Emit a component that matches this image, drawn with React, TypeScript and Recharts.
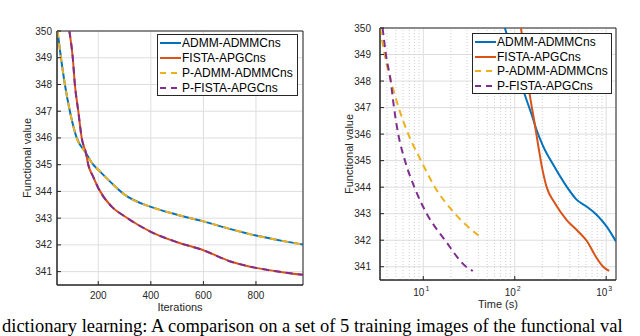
import React from "react";
import {
  LineChart,
  Line,
  XAxis,
  YAxis,
  CartesianGrid,
  ReferenceLine,
  ReferenceArea,
  Legend,
} from "recharts";

// left panel: functional value vs iterations
const admmIter = [45, 58, 73, 92, 118, 153, 181, 200, 250, 300, 400, 500, 600, 700, 800, 900, 979];
const admmIterVal = [350, 349, 348, 347, 346, 345.44, 345, 344.81, 344.32, 343.88, 343.42, 343.13, 342.88, 342.6, 342.35, 342.15, 342.01];
const fistaIter = [90, 103, 111, 124, 137, 153, 162, 180, 200, 250, 300, 400, 500, 600, 700, 800, 900, 979];
const fistaIterVal = [350, 349, 348, 347, 346, 345.44, 345, 344.56, 344.13, 343.44, 343.07, 342.49, 342.1, 341.8, 341.39, 341.14, 340.98, 340.88];

// right panel: functional value vs time (s)
const admmTime = [78, 95, 123, 159, 170, 204, 263, 368, 474, 610, 785, 1009, 1280];
const admmTimeVal = [350, 349.0, 347.69, 346.56, 346.24, 345.55, 344.85, 344.03, 343.53, 343.27, 342.96, 342.52, 341.95];
const fistaTime = [117, 130, 143, 165, 180, 196, 222, 274, 368, 494, 620, 752, 927, 1079];
const fistaTimeVal = [350, 348.8, 347.69, 346.4, 345.6, 344.85, 344.03, 343.4, 342.77, 342.33, 341.95, 341.44, 341.0, 340.84];
const pAdmmTime = [3.36, 3.77, 4.43, 5.37, 6.85, 9.44, 13.4, 22.2, 41.8];
const pAdmmTimeVal = [350, 349, 348, 347, 346, 345, 344, 343, 342.13];
const pFistaTime = [3.59, 3.9, 4.4, 4.78, 5.32, 6.3, 7.98, 10.9, 17.3, 29.4, 34.8];
const pFistaTimeVal = [350, 349, 348, 347, 346, 345, 344, 343, 342, 341, 340.84];

const yTicks = [341, 342, 343, 344, 345, 346, 347, 348, 349, 350];
const iterTicks = [200, 400, 600, 800];
const timeTicks = [10, 100, 1000];
const timeMinor = [4, 5, 6, 7, 8, 9, 20, 30, 40, 50, 60, 70, 80, 90, 200, 300, 400, 500, 600, 700, 800, 900];

const seriesNames = ["ADMM-ADMMCns", "FISTA-APGCns", "P-ADMM-ADMMCns", "P-FISTA-APGCns"];
const seriesColors = ["#0072BD", "#D95319", "#EDB120", "#7E2F8E"];
const seriesDashed = [false, false, true, true];

const caption =
  "dictionary learning: A comparison on a set of 5 training images of the functional val";

const FONT = "'Liberation Sans', Arial, sans-serif";
const AX = "#262626";
const GRID = "#dedede";
const DASH = "7 5";

const pts = (xs: number[], ys: number[]) => xs.map((x, i) => ({ x, y: ys[i] }));

const MatlabLegend = ({ rowH, padTop }: { rowH: number; padTop: number }) => (
  <div
    style={{
      boxSizing: "border-box",
      width: "100%",
      height: "100%",
      background: "#fff",
      border: `1px solid ${AX}`,
      paddingTop: padTop,
      fontFamily: FONT,
      fontSize: 12,
      color: "#000",
    }}
  >
    {seriesNames.map((name, i) => (
      <div key={name} style={{ display: "flex", alignItems: "center", height: rowH, whiteSpace: "nowrap" }}>
        <svg width={24} height={6} style={{ flex: "none" }}>
          <line
            x1={2}
            x2={23}
            y1={3}
            y2={3}
            stroke={seriesColors[i]}
            strokeWidth={2}
            strokeDasharray={seriesDashed[i] ? "6 5" : undefined}
          />
        </svg>
        <span>{name}</span>
      </div>
    ))}
  </div>
);

const PowerTick = (props: any) => {
  const { x, y, payload } = props;
  const exp = Math.round(Math.log10(payload.value));
  return (
    <text x={x - 2} y={y + 12} textAnchor="middle" fontFamily={FONT} fontSize={10} fill={AX}>
      10
      <tspan dx={1} dy={-5} fontSize={7}>
        {exp}
      </tspan>
    </text>
  );
};

const tickStyle = { fontFamily: FONT, fontSize: 10, fill: AX };
const labelStyle = { fontFamily: FONT, fontSize: 11, fill: AX, textAnchor: "middle" as const };

const IterationsChart = () => (
  <LineChart width={320} height={336} margin={{ top: 31, right: 17, bottom: 21, left: 0 }}>
    <CartesianGrid stroke={GRID} />
    <XAxis
      dataKey="x"
      type="number"
      domain={[43, 979]}
      ticks={iterTicks}
      allowDataOverflow
      height={30}
      tickSize={-4}
      tickMargin={11}
      tick={tickStyle}
      stroke={AX}
      label={{ value: "Iterations", position: "insideBottom", offset: 4, style: labelStyle }}
    />
    <YAxis
      type="number"
      domain={[340.5, 350]}
      ticks={yTicks}
      allowDataOverflow
      width={57}
      tickSize={-4}
      tickMargin={9}
      tick={tickStyle}
      stroke={AX}
      label={{ value: "Functional value", angle: -90, position: "insideLeft", offset: 27, style: labelStyle }}
    />
    <ReferenceArea x1={43} x2={979} y1={340.5} y2={350} fill="none" stroke={AX} strokeOpacity={1} />
    <Line data={pts(admmIter, admmIterVal)} dataKey="y" type="monotone" stroke={seriesColors[0]} strokeWidth={2} dot={false} isAnimationActive={false} />
    <Line data={pts(fistaIter, fistaIterVal)} dataKey="y" type="monotone" stroke={seriesColors[1]} strokeWidth={2} dot={false} isAnimationActive={false} />
    <Line data={pts(admmIter, admmIterVal)} dataKey="y" type="monotone" stroke={seriesColors[2]} strokeWidth={2} strokeDasharray={DASH} dot={false} isAnimationActive={false} />
    <Line data={pts(fistaIter, fistaIterVal)} dataKey="y" type="monotone" stroke={seriesColors[3]} strokeWidth={2} strokeDasharray={DASH} dot={false} isAnimationActive={false} />
    <Legend
      layout="vertical"
      align="center"
      verticalAlign="middle"
      wrapperStyle={{ left: 157, top: 34, width: 141, height: 62 }}
      content={() => <MatlabLegend rowH={14.9} padTop={1} />}
    />
  </LineChart>
);

const TimeChart = () => (
  <LineChart width={320} height={336} margin={{ top: 28, right: 24, bottom: 26, left: 0 }}>
    <CartesianGrid stroke={GRID} />
    {timeMinor.map((v) => (
      <ReferenceLine key={v} x={v} stroke="#cfcfcf" strokeDasharray="1 2" />
    ))}
    <XAxis
      dataKey="x"
      type="number"
      scale="log"
      domain={[3.36, 1280]}
      ticks={timeTicks}
      allowDataOverflow
      height={30}
      tickSize={-4}
      tickMargin={8}
      tick={<PowerTick />}
      stroke={AX}
      label={{ value: "Time (s)", position: "insideBottom", offset: 2, style: labelStyle }}
    />
    <YAxis
      type="number"
      domain={[340.5, 350]}
      ticks={yTicks}
      allowDataOverflow
      width={60}
      tickSize={-4}
      tickMargin={13}
      tick={tickStyle}
      stroke={AX}
      label={{ value: "Functional value", angle: -90, position: "insideLeft", offset: 29, style: labelStyle }}
    />
    <ReferenceArea x1={3.36} x2={1280} y1={340.5} y2={350} fill="none" stroke={AX} strokeOpacity={1} />
    <Line data={pts(admmTime, admmTimeVal)} dataKey="y" type="monotone" stroke={seriesColors[0]} strokeWidth={2} dot={false} isAnimationActive={false} />
    <Line data={pts(fistaTime, fistaTimeVal)} dataKey="y" type="monotone" stroke={seriesColors[1]} strokeWidth={2} dot={false} isAnimationActive={false} />
    <Line data={pts(pAdmmTime, pAdmmTimeVal)} dataKey="y" type="monotone" stroke={seriesColors[2]} strokeWidth={2} strokeDasharray={DASH} dot={false} isAnimationActive={false} />
    <Line data={pts(pFistaTime, pFistaTimeVal)} dataKey="y" type="monotone" stroke={seriesColors[3]} strokeWidth={2} strokeDasharray={DASH} dot={false} isAnimationActive={false} />
    <Legend
      layout="vertical"
      align="center"
      verticalAlign="middle"
      wrapperStyle={{ left: 152, top: 33, width: 140, height: 61 }}
      content={() => <MatlabLegend rowH={14.5} padTop={1} />}
    />
  </LineChart>
);

export default function App() {
  return (
    <div
      style={{
        position: "absolute",
        left: 0,
        top: 0,
        width: 640,
        height: 336,
        overflow: "hidden",
        background: "#fff",
      }}
    >
      <div style={{ position: "absolute", left: 0, top: 0 }}>
        <IterationsChart />
      </div>
      <div style={{ position: "absolute", left: 320, top: 0 }}>
        <TimeChart />
      </div>
      <svg width={640} height={336} style={{ position: "absolute", left: 0, top: 0, pointerEvents: "none" }}>
        <text x={2} y={331.5} fontFamily="'Liberation Serif', 'Times New Roman', serif" fontSize={18.5} fill="#000">
          {caption}
        </text>
      </svg>
    </div>
  );
}
